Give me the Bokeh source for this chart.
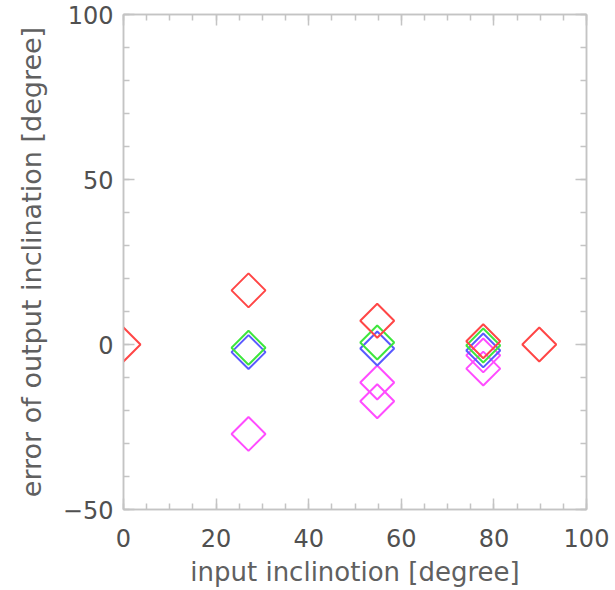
import numpy as np
from bokeh.plotting import figure
from bokeh.models import LinearAxis, SingleIntervalTicker, Range1d, ColumnDataSource
from bokeh.embed import file_html
from bokeh.resources import INLINE

# ---- data ----
red_x = [0, 27.0, 54.8, 77.7, 89.8]
red_y = [0.0, 16.4, 7.2, 1.0, 0.0]
green_x = [27.0, 54.8, 77.7]
green_y = [-1.0, 0.6, -0.3]
blue_x = [27.0, 54.8, 77.7]
blue_y = [-2.3, -1.2, -1.8]
magenta_x = [27.0, 54.8, 54.8, 77.7, 77.7]
magenta_y = [-27.1, -11.5, -17.2, -3.3, -7.3]

x_label = "input inclinotion [degree]"
y_label = "error of output inclination [degree]"

FONT = "DejaVu Sans ExtraLight, DejaVu Sans"
GRAY = "#c4c4c4"
TXT = "#505050"

p = figure(frame_width=463, frame_height=495,
           x_range=Range1d(0, 100), y_range=Range1d(-50, 100),
           output_backend="svg", toolbar_location=None,
           min_border_left=123, min_border_top=14, min_border_right=26,
           min_border_bottom=76)
p.grid.visible = False
p.outline_line_color = GRAY
p.outline_line_width = 1.5
p.background_fill_color = "white"
p.border_fill_color = "white"


def style_axis(ax, labels=True):
    ax.axis_line_color = GRAY
    ax.axis_line_width = 1.5
    ax.major_tick_line_color = GRAY
    ax.minor_tick_line_color = GRAY
    ax.major_tick_line_width = 1.5
    ax.minor_tick_line_width = 1.5
    ax.major_tick_in = 11
    ax.major_tick_out = 0
    ax.minor_tick_in = 6
    ax.minor_tick_out = 0
    if labels:
        ax.major_label_text_font = FONT
        ax.major_label_text_font_size = "24px"
        ax.major_label_text_color = TXT
        ax.axis_label_text_font = FONT
        ax.axis_label_text_font_size = "26px"
        ax.axis_label_text_font_style = "normal"
        ax.axis_label_text_color = "#606060"
    else:
        ax.major_label_text_font_size = "0px"
        ax.major_label_standoff = 0
        ax.axis_label = None


xt = SingleIntervalTicker(interval=20, num_minor_ticks=4)
yt = SingleIntervalTicker(interval=50, num_minor_ticks=5)

xa = p.xaxis[0]
xa.ticker = xt
xa.axis_label = x_label
style_axis(xa)
xa.major_label_standoff = 19
xa.axis_label_standoff = 7

ya = p.yaxis[0]
ya.ticker = yt
ya.axis_label = y_label
style_axis(ya)
ya.axis_label_text_font_size = "27px"
ya.major_label_standoff = 10
ya.axis_label_standoff = 13
ya.major_label_overrides = {-50: "\u221250"}

top = LinearAxis(ticker=SingleIntervalTicker(interval=20, num_minor_ticks=4))
style_axis(top, labels=False)
p.add_layout(top, "above")
right = LinearAxis(ticker=SingleIntervalTicker(interval=50, num_minor_ticks=5))
style_axis(right, labels=False)
p.add_layout(right, "right")

SZ = 24
LW = 2
series = [
    (magenta_x, magenta_y, "#ff4cff"),
    (blue_x, blue_y, "#5a5aff"),
    (green_x, green_y, "#3ee63e"),
    (red_x, red_y, "#ff4646"),
]
for xs, ys, col in series:
    src = ColumnDataSource(dict(x=xs, y=ys))
    p.scatter("x", "y", source=src, marker="square", angle=np.pi / 4, size=SZ,
              fill_color=None, line_color=col, line_width=LW)

open("out.html", "w").write(file_html(p, INLINE))
